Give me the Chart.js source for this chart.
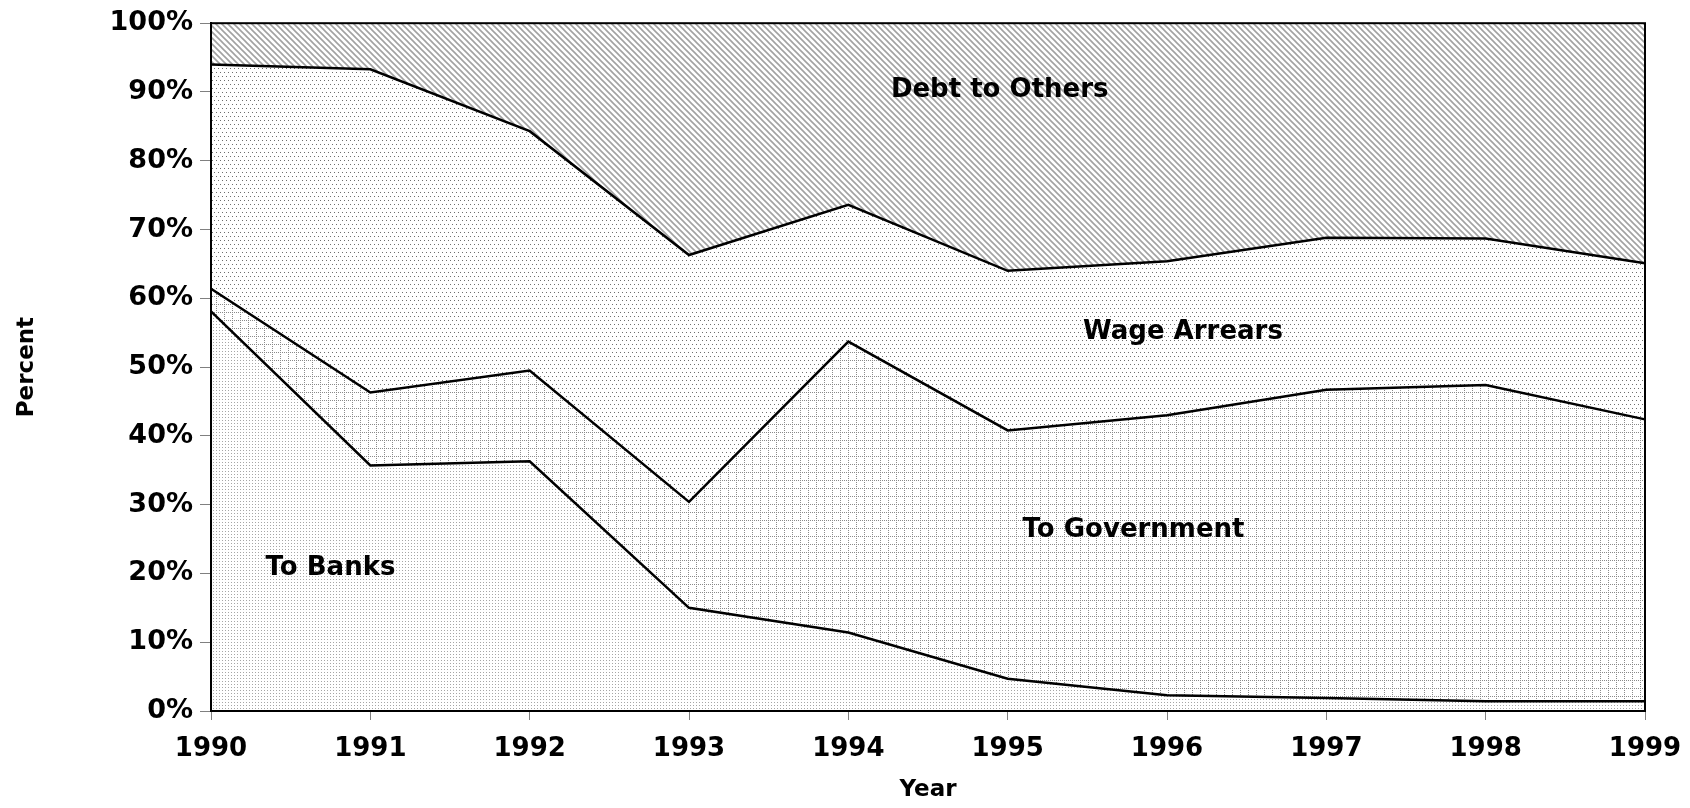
<!DOCTYPE html>
<html>
<head>
<meta charset="utf-8">
<script src="https://cdn.jsdelivr.net/npm/chart.js@4.4.1/dist/chart.umd.min.js"></script>
<style>
  html, body { margin: 0; padding: 0; background: #fff; }
  #wrap { width: 1690px; height: 808px; }
</style>
</head>
<body>
<div id="wrap"><canvas id="debtChart" width="1690" height="808"></canvas></div>
<script>
// -- data (percent share of each category, stacked to 100) --
const YEARS          = ['1990', '1991', '1992', '1993', '1994', '1995', '1996', '1997', '1998', '1999'];
const TO_BANKS       = [58.1, 35.7, 36.3, 15.0, 11.4,  4.7,  2.3,  1.9,  1.4,  1.4];
const TO_GOVERNMENT  = [ 3.3, 10.6, 13.2, 15.4, 42.3, 36.1, 40.7, 44.8, 46.0, 41.0];
const WAGE_ARREARS   = [32.6, 47.0, 34.8, 35.9, 19.9, 23.2, 22.4, 22.1, 21.3, 22.7];
const DEBT_TO_OTHERS = [ 6.0,  6.7, 15.7, 33.7, 26.4, 36.0, 34.6, 31.2, 31.3, 34.9];

// in-chart area labels, placed in data units (year index, percent)
const AREA_LABELS  = ['Debt to Others', 'Wage Arrears', 'To Government', 'To Banks'];
const AREA_LABEL_X = [4.95, 6.10, 5.79, 0.75];
const AREA_LABEL_Y = [90.3, 55.0, 26.3, 20.8];

const FONT = '"DejaVu Sans", Arial, sans-serif';

// -- fill patterns --
function makePattern(size, draw) {
  const c = document.createElement('canvas');
  c.width = c.height = size;
  const g = c.getContext('2d');
  g.fillStyle = '#fff';
  g.fillRect(0, 0, size, size);
  draw(g, size);
  return g.createPattern(c, 'repeat');
}

const hatch = makePattern(6, (g, s) => {
  g.strokeStyle = '#a2a2a2';
  g.lineWidth = 1.6;
  g.beginPath();
  for (let o = -s; o <= s; o += s) {
    g.moveTo(o - 1, -1);
    g.lineTo(o + s + 1, s + 1);
  }
  g.stroke();
});

const coarseDots = makePattern(8, g => {
  g.fillStyle = '#6e6e6e';
  [[0, 0], [4, 0], [2, 4], [6, 4]].forEach(([x, y]) => g.fillRect(x, y, 1, 1));
});

const dottedGrid = makePattern(8, g => {
  g.fillStyle = '#8a8a8a';
  for (let i = 0; i < 8; i += 2) {
    g.fillRect(i, 0, 1, 1);
    g.fillRect(0, i, 1, 1);
  }
});

const fineDots = makePattern(6, g => {
  g.fillStyle = '#a6a6a6';
  [[0, 0], [3, 0], [0, 3], [3, 3]].forEach(([x, y]) => g.fillRect(x, y, 1, 1));
});

// frame + area labels
const extras = {
  id: 'extras',
  afterDatasetsDraw(chart) {
    const { ctx, chartArea: a, scales: { x, y } } = chart;
    ctx.save();
    ctx.strokeStyle = '#000';
    ctx.lineWidth = 2;
    ctx.strokeRect(a.left, a.top, a.right - a.left, a.bottom - a.top);
    ctx.fillStyle = '#000';
    ctx.font = `bold 26px ${FONT}`;
    ctx.textAlign = 'center';
    ctx.textBaseline = 'middle';
    AREA_LABELS.forEach((t, i) => {
      ctx.fillText(t, x.getPixelForValue(AREA_LABEL_X[i]), y.getPixelForValue(AREA_LABEL_Y[i]));
    });
    ctx.restore();
  },
};

const series = (data, bg, fill, bw) => ({
  data,
  backgroundColor: bg,
  borderColor: '#000',
  borderWidth: bw,
  pointRadius: 0,
  tension: 0,
  fill,
});

new Chart(document.getElementById('debtChart'), {
  type: 'line',
  data: {
    labels: YEARS,
    datasets: [
      series(TO_BANKS, fineDots, 'origin', 2.5),
      series(TO_GOVERNMENT, dottedGrid, '-1', 2.5),
      series(WAGE_ARREARS, coarseDots, '-1', 2.5),
      series(DEBT_TO_OTHERS, hatch, '-1', 0),
    ],
  },
  options: {
    responsive: false,
    animation: false,
    layout: { padding: { left: 0, right: 45, top: 19, bottom: 0 } },
    plugins: { legend: { display: false }, tooltip: { enabled: false } },
    scales: {
      x: {
        offset: false,
        grid: { drawOnChartArea: false, drawTicks: true, tickLength: 9, tickColor: '#808080' },
        border: { display: true, color: '#000', width: 2 },
        ticks: { color: '#000', font: { family: FONT, size: 26, weight: 'bold' }, padding: 14, maxRotation: 0 },
        title: { display: true, text: 'Year', color: '#000', font: { family: FONT, size: 23, weight: 'bold' }, padding: { top: 6 } },
        afterFit: s => { s.height = 97; s.paddingLeft = 0; s.paddingRight = 0; },
      },
      y: {
        stacked: true,
        min: 0,
        max: 100,
        grid: { drawOnChartArea: false, drawTicks: true, tickLength: 11, tickColor: '#808080' },
        border: { display: true, color: '#000', width: 2 },
        ticks: { stepSize: 10, color: '#000', font: { family: FONT, size: 27, weight: 'bold' }, padding: 7, callback: v => `${v}%` },
        title: { display: true, text: 'Percent', color: '#000', font: { family: FONT, size: 23, weight: 'bold' }, padding: { top: 13 } },
        afterFit: s => { s.width = 211; },
      },
    },
  },
  plugins: [extras],
});
</script>
</body>
</html>
